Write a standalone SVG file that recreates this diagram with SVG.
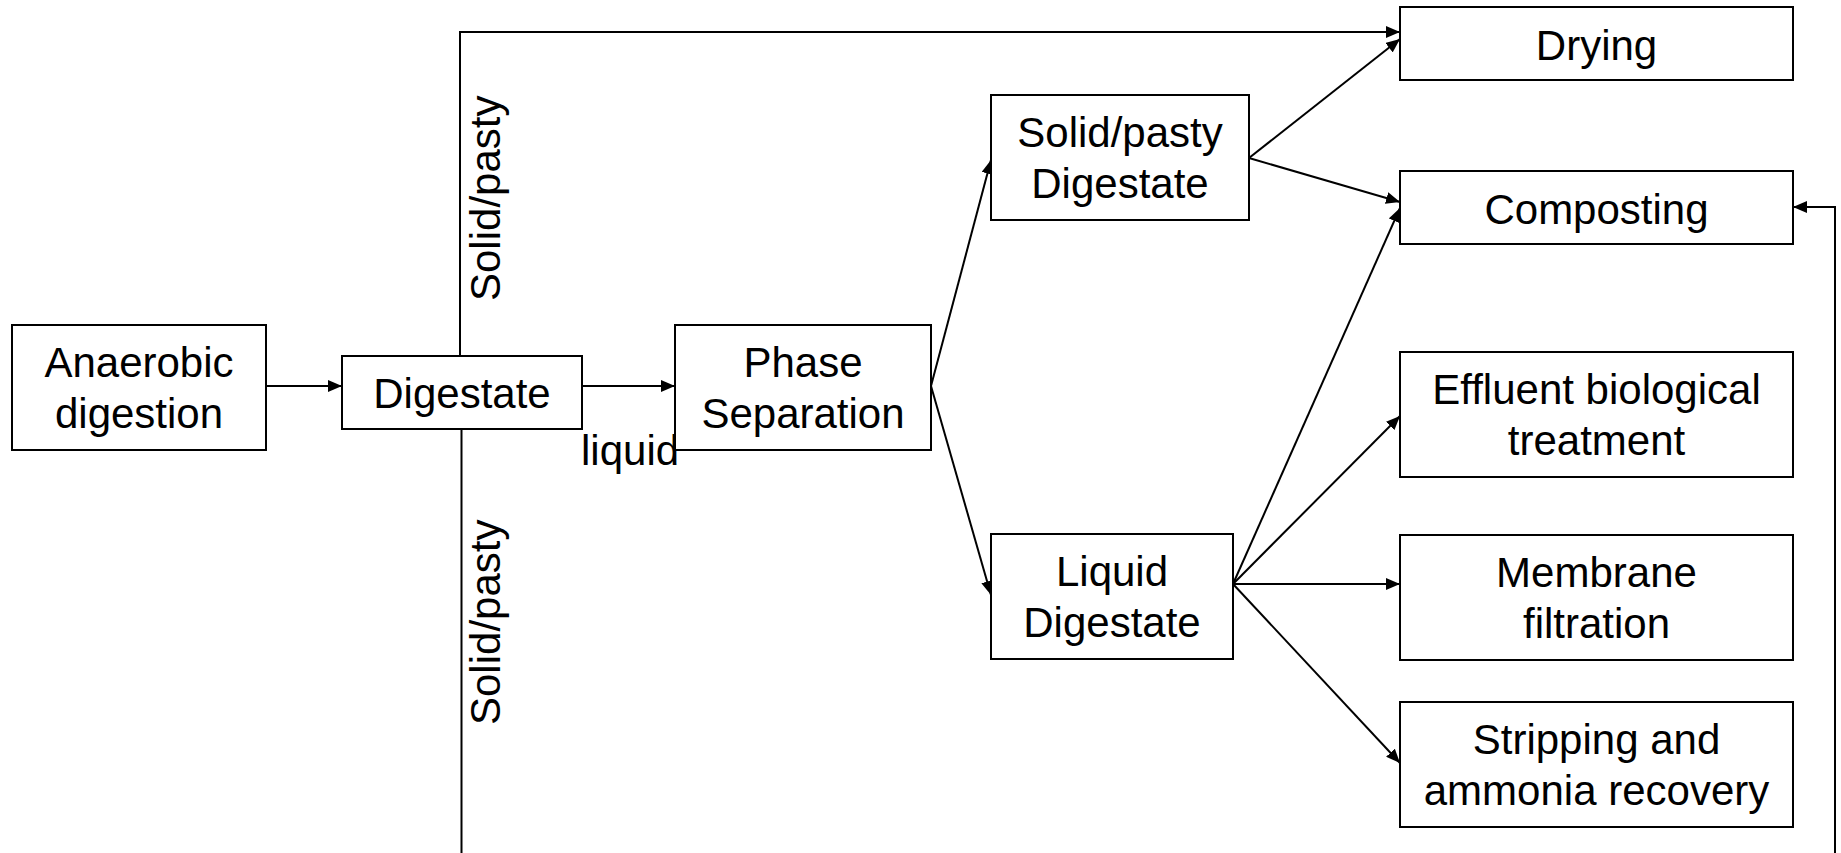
<svg xmlns="http://www.w3.org/2000/svg" width="1841" height="853" viewBox="0 0 1841 853">
<style>
.box{fill:#fff;stroke:#000;stroke-width:2}
.t{font-family:"Liberation Sans",Arial,sans-serif;font-size:42px;fill:#000;text-anchor:middle}
.lbl{font-family:"Liberation Sans",Arial,sans-serif;font-size:42px;fill:#000}
.c{fill:none;stroke:#000;stroke-width:2}
.a{marker-end:url(#arr)}
</style>
<defs>
<marker id="arr" viewBox="0 0 14 12" refX="14" refY="6" markerWidth="14" markerHeight="12" markerUnits="userSpaceOnUse" orient="auto">
<path d="M0,0 L14,6 L0,12 z" fill="#000"/>
</marker>
</defs>
<rect width="1841" height="853" fill="#fff"/>
<g id="connectors">
<line class="c a" x1="266" y1="386" x2="342" y2="386"/>
<line class="c a" x1="582" y1="386" x2="675" y2="386"/>
<polyline class="c a" points="460,356 460,32 1400,32"/>
<line class="c" x1="461.5" y1="429" x2="461.5" y2="853"/>
<line class="c a" x1="931" y1="386" x2="991" y2="160"/>
<line class="c a" x1="931" y1="386" x2="991" y2="595"/>
<line class="c a" x1="1249" y1="158" x2="1400" y2="39"/>
<line class="c a" x1="1249" y1="158" x2="1400" y2="202"/>
<line class="c a" x1="1233" y1="584" x2="1400" y2="208"/>
<line class="c a" x1="1233" y1="584" x2="1400" y2="416"/>
<line class="c a" x1="1233" y1="584" x2="1400" y2="584"/>
<line class="c a" x1="1233" y1="584" x2="1400" y2="763"/>
<polyline class="c a" points="1835,853 1835,207 1793,207"/>
<text class="lbl" x="581" y="465">liquid</text>
<text class="lbl" transform="translate(500,301) rotate(-90)">Solid/pasty</text>
<text class="lbl" transform="translate(500,725) rotate(-90)">Solid/pasty</text>
</g>
<g id="anaerobic">
<rect class="box" x="12" y="325" width="254" height="125"/>
<text class="t" x="139" y="377">Anaerobic</text>
<text class="t" x="139" y="428">digestion</text>
</g>
<g id="digestate">
<rect class="box" x="342" y="356" width="240" height="73"/>
<text class="t" x="462" y="408">Digestate</text>
</g>
<g id="phase">
<rect class="box" x="675" y="325" width="256" height="125"/>
<text class="t" x="803" y="377">Phase</text>
<text class="t" x="803" y="428">Separation</text>
</g>
<g id="solid">
<rect class="box" x="991" y="95" width="258" height="125"/>
<text class="t" x="1120" y="147">Solid/pasty</text>
<text class="t" x="1120" y="198">Digestate</text>
</g>
<g id="liquidDig">
<rect class="box" x="991" y="534" width="242" height="125"/>
<text class="t" x="1112" y="586">Liquid</text>
<text class="t" x="1112" y="637">Digestate</text>
</g>
<g id="drying">
<rect class="box" x="1400" y="7" width="393" height="73"/>
<text class="t" x="1596.5" y="60">Drying</text>
</g>
<g id="composting">
<rect class="box" x="1400" y="171" width="393" height="73"/>
<text class="t" x="1596.5" y="224">Composting</text>
</g>
<g id="effluent">
<rect class="box" x="1400" y="352" width="393" height="125"/>
<text class="t" x="1596.5" y="404">Effluent biological</text>
<text class="t" x="1596.5" y="455">treatment</text>
</g>
<g id="membrane">
<rect class="box" x="1400" y="535" width="393" height="125"/>
<text class="t" x="1596.5" y="587">Membrane</text>
<text class="t" x="1596.5" y="638">filtration</text>
</g>
<g id="stripping">
<rect class="box" x="1400" y="702" width="393" height="125"/>
<text class="t" x="1596.5" y="754">Stripping and</text>
<text class="t" x="1596.5" y="805">ammonia recovery</text>
</g>
</svg>
